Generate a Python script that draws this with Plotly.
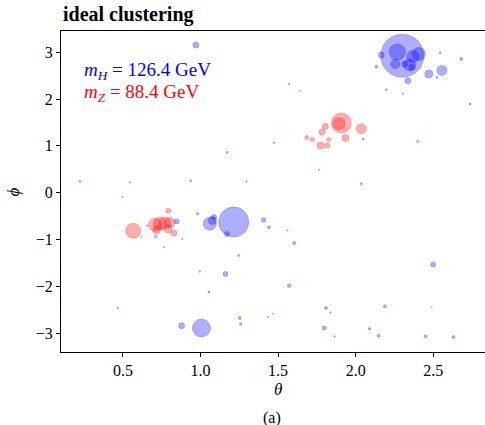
import plotly.graph_objects as go

# Higgs-like (blue) constituents: theta, phi, marker size (pt)
h_theta = [2.300, 2.268, 2.407, 2.368, 2.347, 2.255, 2.315, 2.362, 2.165, 2.133,
           2.336, 2.471, 2.555, 2.544, 2.680, 2.523, 2.197, 2.304, 2.737, 0.970,
           1.570, 2.048, 2.036, 1.407, 1.441, 1.604, 0.846, 0.653, 0.981, 1.060,
           1.077, 1.088, 1.214, 1.171, 1.246, 0.545, 0.936, 1.296, 1.161, 0.995,
           1.055, 1.571, 0.466, 0.878, 1.006, 1.253, 1.259, 2.499, 1.808, 1.837,
           2.188, 2.490, 1.798, 1.864, 2.089, 2.147, 2.450, 2.630]
h_phi = [2.927, 3.006, 2.964, 2.912, 2.735, 2.750, 2.750, 2.677, 2.942, 2.692,
         2.393, 2.536, 2.613, 2.985, 2.857, 2.464, 2.201, 2.115, 1.895, 3.156,
         2.329, 1.147, 0.192, -0.583, -0.741, -1.073, -0.613, -0.705, -0.449, -0.662,
         -0.592, -0.519, -0.626, -0.882, -1.340, 0.220, 0.256, 0.241, -1.737, -1.682,
         -2.122, -1.987, -2.457, -2.842, -2.891, -2.677, -2.806, -1.532, -2.464, -2.558,
         -2.429, -2.442, -2.891, -3.071, -2.906, -3.056, -3.071, -3.083]
h_size = [43, 16, 13, 12, 12, 9, 6, 6, 6, 3,
          6, 8, 10, 2, 3, 2, 2, 1.5, 2, 6,
          1.5, 2, 2, 4.5, 3, 3, 5, 1.5, 2.5, 13,
          8, 5, 30, 5, 2, 1.5, 2, 1.5, 5, 1.5,
          2, 3.5, 1.5, 6, 18, 3, 2.5, 5, 3, 1.5,
          3, 1, 4, 1.5, 2.5, 3, 3, 3]

# Z-like (red) constituents
z_theta = [1.907, 1.892, 2.036, 1.804, 1.782, 1.933, 1.826, 1.684, 1.721, 1.774,
           1.817, 1.474, 1.763, 2.400, 1.560, 0.566, 0.706, 0.738, 0.770, 0.802,
           0.717, 0.792, 0.792, 0.830, 0.712, 0.882, 0.764, 0.497, 0.223, 1.171,
           1.639, 1.435, 1.467, 0.620]
z_phi = [1.489, 1.474, 1.368, 1.417, 1.297, 1.169, 1.139, 1.182, 1.139, 1.011,
         1.011, 1.068, 0.487, 1.096, -0.806, -0.812, -0.684, -0.662, -0.647, -0.635,
         -0.791, -0.776, -0.385, -0.861, -0.934, -0.989, -1.160, -0.096, 0.241, 0.861,
         2.179, -2.656, -2.585, -0.947]
z_size = [20, 12, 10, 6, 6, 7, 4, 4, 4, 7,
          5, 2, 1.5, 2.5, 1.5, 15, 13, 13, 12, 10,
          8, 8, 5, 6, 3, 1.5, 1.5, 1.5, 2.5, 2.5,
          1.5, 1.5, 1.5, 1]

x_ticks = [0.5, 1.0, 1.5, 2.0, 2.5]
y_ticks = [-3, -2, -1, 0, 1, 2, 3]

SERIF = "Liberation Serif, DejaVu Serif, serif"
BLUE = "rgba(0,0,255,0.45)"
RED = "rgba(255,0,0,0.45)"

fig = go.Figure()
fig.add_trace(go.Scatter(x=z_theta, y=z_phi, mode="markers",
                         marker=dict(size=z_size, color=RED,
                                     line=dict(width=0.8, color=RED)),
                         showlegend=False))
fig.add_trace(go.Scatter(x=h_theta, y=h_phi, mode="markers",
                         marker=dict(size=h_size, color=BLUE,
                                     line=dict(width=0.8, color=BLUE)),
                         showlegend=False))

axis_common = dict(showgrid=False, zeroline=False, showline=True, linecolor="black",
                   linewidth=1, ticks="outside", ticklen=4, tickcolor="black",
                   tickfont=dict(family=SERIF, size=16, color="black"))
fig.update_xaxes(range=[0.101, 2.833], tickvals=x_ticks,
                 ticktext=["0.5", "1.0", "1.5", "2.0", "2.5"], mirror=True, **axis_common)
fig.update_yaxes(range=[-3.404, 3.455], tickvals=y_ticks,
                 ticktext=["\u22123", "\u22122", "\u22121", "0", "1", "2", "3"],
                 mirror=False, **axis_common)

ann = [
    dict(text="<b>ideal clustering</b>", x=0, y=1.052, xanchor="left", yanchor="middle",
         font=dict(family=SERIF, size=20, color="black")),
    dict(text="<i>m</i><sub><i>H</i></sub> = 126.4 GeV", x=0.0495, y=0.875,
         xanchor="left", yanchor="middle", font=dict(family=SERIF, size=19, color="blue")),
    dict(text="<i>m</i><sub><i>Z</i></sub> = 88.4 GeV", x=0.0495, y=0.807,
         xanchor="left", yanchor="middle", font=dict(family=SERIF, size=19, color="red")),
    dict(text="<i>θ</i>", x=0.511, y=-0.118, xanchor="center", yanchor="middle",
         font=dict(family=SERIF, size=17, color="black")),
    dict(text="<i>ϕ</i>", x=-0.111, y=0.5, xanchor="center", yanchor="middle", textangle=-90,
         font=dict(family=SERIF, size=17, color="black")),
    dict(text="(a)", x=0.497, y=-0.206, xanchor="center", yanchor="middle",
         font=dict(family=SERIF, size=16, color="black")),
]
for a in ann:
    a.update(xref="paper", yref="paper", showarrow=False)
fig.update_layout(annotations=ann, width=485, height=425,
                  margin=dict(l=61, r=0, t=31, b=73),
                  plot_bgcolor="white", paper_bgcolor="white")

fig.write_html("out.html")
